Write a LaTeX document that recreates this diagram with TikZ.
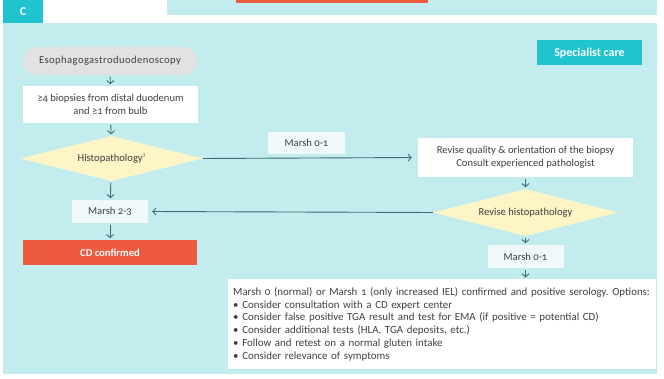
\documentclass[tikz,border=0pt]{standalone}
\usepackage{fontspec}
\setmainfont{Carlito}[Numbers=OldStyle]
\usetikzlibrary{arrows.meta,shapes.geometric}
\frenchspacing

\definecolor{panel}{HTML}{C3ECEE}
\definecolor{tabteal}{HTML}{20C4CF}
\definecolor{alarm}{HTML}{EE5A3F}
\definecolor{decide}{HTML}{FEF5C6}
\definecolor{pill}{HTML}{E2E2E2}
\definecolor{wire}{HTML}{3D6C74}
\definecolor{ink}{HTML}{404040}
\definecolor{paleBox}{HTML}{EFF9FA}

\tikzset{
  every node/.style={font=\fontsize{10.6}{12.6}\selectfont, text=ink, inner sep=0pt},
  stepbox/.style={rectangle, fill=white, align=center},
  labelbox/.style={rectangle, fill=paleBox, align=center},
  choice/.style={diamond, fill=decide, aspect=4},
  flow/.style={draw=wire, line width=0.9pt, -{Straight Barb[length=3.2pt,width=7pt]}},
  drop/.style={flow, shorten <=1.5pt, shorten >=1.5pt},
  tabtext/.style={text=white, font=\fontsize{12}{13}\selectfont\bfseries},
}

\begin{document}
\begin{tikzpicture}[x=1pt,y=-1pt]
\useasboundingbox (0,0) rectangle (664,379);
\fill[white] (0,0) rectangle (664,379);

% upper strip and section tab
\fill[panel] (167,0) rectangle (657,15);
\fill[alarm] (236,0) rectangle (428,3);
\fill[panel] (3,23) rectangle (657,374);
\node[fill=tabteal, minimum width=40pt, minimum height=23pt, tabtext] (tab) at (23,11.5) {C};
\node[fill=tabteal, minimum width=105pt, minimum height=25pt, tabtext] (spec) at (589.5,53) {Specialist care};

% left column
\node[fill=pill, rounded corners=13pt, minimum width=174pt, minimum height=28pt, font=\fontsize{10.6}{12.6}\selectfont\addfontfeature{LetterSpace=4}] (egd) at (110,61) {Esophagogastroduodenoscopy};
\node[stepbox, minimum width=175pt, minimum height=37pt] (bio) at (110.5,104.5) {≥4 biopsies from distal duodenum\\and ≥1 from bulb};
\node[choice, minimum width=183pt, minimum height=45pt] (histo) at (111.5,158.5) {Histopathology\raisebox{0.9ex}{\fontsize{5}{5}\selectfont 3}};
\node[labelbox, minimum width=76pt, minimum height=23pt] (m23) at (110,211.5) {Marsh 2-3};
\node[rectangle, fill=alarm, minimum width=174pt, minimum height=25pt, text=white, font=\fontsize{10.6}{12}\selectfont\bfseries] (cd) at (110,252.5) {CD confirmed};

% right column
\node[labelbox, minimum width=77pt, minimum height=22pt] (lab01) at (306.5,143) {Marsh 0-1};
\node[stepbox, minimum width=215pt, minimum height=39pt] (revq) at (525.5,157.5) {Revise quality \& orientation of the biopsy\\Consult experienced pathologist};
\node[choice, minimum width=185pt, minimum height=47pt] (rev) at (525.5,212.5) {Revise histopathology};
\node[labelbox, minimum width=76pt, minimum height=23pt] (m01) at (525.5,256.5) {Marsh 0-1};
\node[stepbox, minimum width=423pt, minimum height=90pt, align=left, anchor=north west, inner xsep=5pt, inner ysep=3pt, text width=418pt, font=\fontsize{10.9}{12.7}\selectfont] (opts) at (228,279) {%
Marsh 0 (normal) or Marsh 1 (only increased IEL) confirmed and positive serology. Options:\\
• Consider consultation with a CD expert center\\
• Consider false positive TGA result and test for EMA (if positive = potential CD)\\
• Consider additional tests (HLA, TGA deposits, etc.)\\
• Follow and retest on a normal gluten intake\\
• Consider relevance of symptoms};

% connectors
\draw[drop] (egd) -- (bio);
\draw[drop] (bio) -- (histo);
\draw[drop] (histo) -- (m23);
\draw[drop] (m23) -- (cd);
\draw[flow, shorten >=6pt] (histo.east) -- (revq.west);
\draw[drop] (revq) -- (rev);
\draw[flow, shorten >=4pt] (rev.west) -- (m23.east);
\draw[drop] (rev) -- (m01);
\draw[drop] (m01.south) -- (m01.south |- opts.north);
\end{tikzpicture}
\end{document}
